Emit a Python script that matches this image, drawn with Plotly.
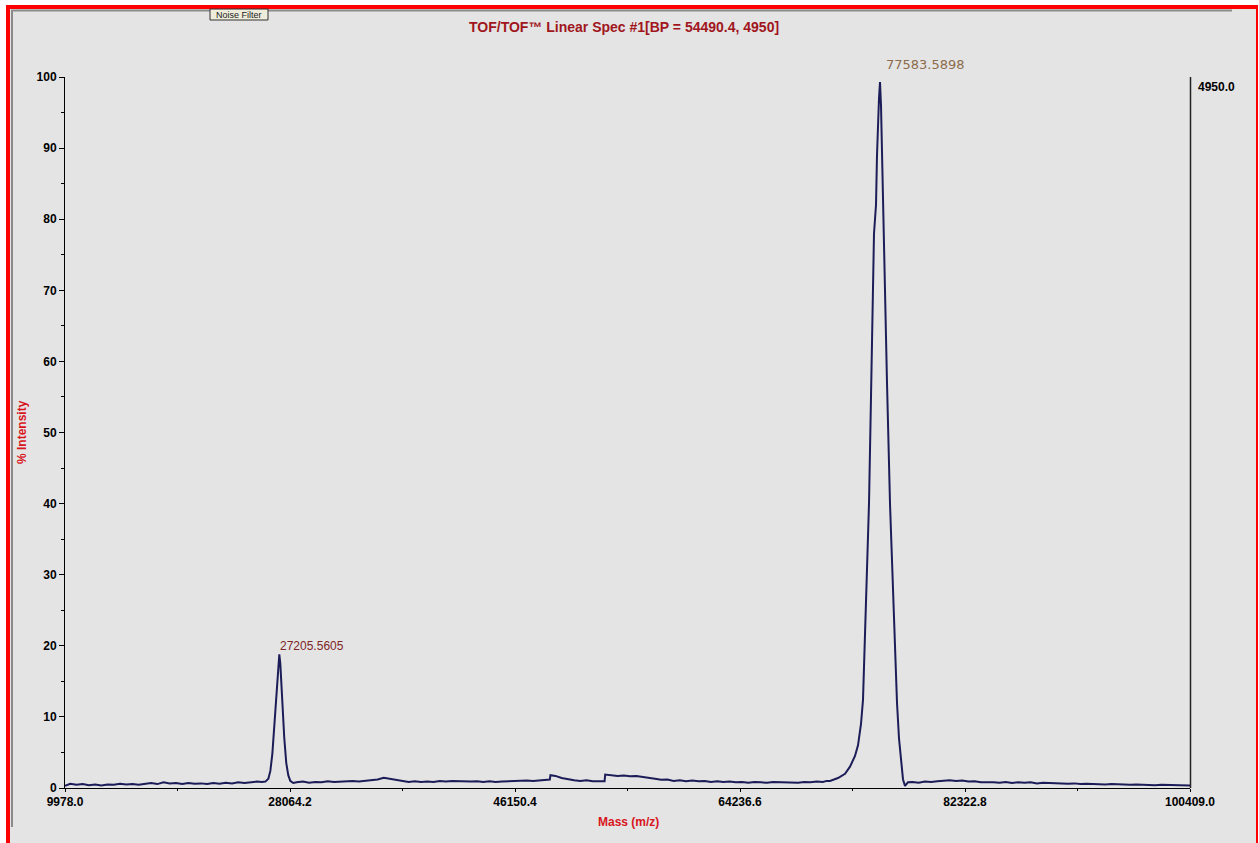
import plotly.graph_objects as go

# ---------------- data ----------------
base1_mass = [9978, 10400, 10900, 11400, 11900, 12400, 12900, 13400, 13900, 14400,
              14900, 15400, 15900, 16400, 16900, 17400, 17900, 18400, 18900, 19400,
              19900, 20400, 20900, 21400, 21900, 22400, 22900, 23400, 23900, 24400,
              24900, 25400, 25800]
base1_int = [0.3, 0.6, 0.45, 0.55, 0.4, 0.5, 0.35, 0.5, 0.45, 0.6,
             0.5, 0.55, 0.45, 0.6, 0.7, 0.55, 0.8, 0.65, 0.7, 0.55,
             0.7, 0.6, 0.65, 0.55, 0.7, 0.6, 0.75, 0.65, 0.8, 0.7,
             0.85, 0.9, 0.85]

peak1_mass = [26085, 26325, 26485, 26645, 26805, 26965, 27125, 27205, 27285, 27445,
              27605, 27765, 27925, 28085, 28325]
peak1_int = [0.9, 1.3, 2.4, 4.8, 9.0, 14.0, 18.0, 18.8, 17.5, 12.0,
             7.0, 3.5, 1.8, 1.0, 0.7]

base2_mass = [28600, 29100, 29600, 30100, 30600, 31100, 31600, 32100, 32600, 33100,
              33600, 34100, 34600, 35100, 35600, 36100, 36600, 37100, 37600, 38100,
              38600, 39100, 39600, 40100, 40600, 41100, 41600, 42100, 42600, 43100,
              43600, 44100, 44600, 45100, 45600, 46100, 46600, 47100, 47600, 48100,
              48600, 48950, 49000, 49400, 49900, 50400, 50900, 51400, 51900, 52400,
              52900, 53350, 53400, 53900, 54400, 54900, 55400, 55900, 56400, 56900,
              57400, 57900, 58400, 58900, 59400, 59900, 60400, 60900, 61400, 61900,
              62400, 62900, 63400, 63900, 64400, 64900, 65400, 65900, 66400, 66900,
              67400, 67900, 68400, 68900, 69400, 69900, 70400, 70900, 71200]
base2_int = [0.8, 0.9, 0.75, 0.85, 0.8, 0.95, 0.85, 0.9, 0.95, 1.0,
             0.9, 1.0, 1.05, 1.2, 1.45, 1.3, 1.05, 0.9, 0.85, 0.95,
             0.85, 0.9, 0.85, 1.0, 0.9, 1.0, 0.95, 0.95, 0.9, 0.95,
             0.85, 0.95, 0.85, 0.9, 0.95, 0.9, 0.95, 1.05, 1.0, 1.1,
             1.15, 1.2, 1.8, 1.7, 1.4, 1.2, 1.1, 1.0, 1.1, 0.95,
             1.0, 0.95, 1.9, 1.8, 1.7, 1.75, 1.65, 1.7, 1.6, 1.5,
             1.3, 1.15, 1.2, 1.0, 1.1, 0.95, 1.05, 0.95, 1.0, 0.85,
             0.95, 0.85, 0.9, 0.8, 0.85, 0.75, 0.85, 0.8, 0.75, 0.85,
             0.8, 0.75, 0.8, 0.75, 0.85, 0.8, 0.9, 0.85, 1.0]

peak2_mass = [71471, 72114, 72677, 73079, 73481, 73722, 73963, 74124, 74365, 74606,
              74767, 74927, 75008, 75169, 75249, 75410, 75490, 75571, 75731, 75892,
              76053, 76294, 76535, 76696, 76857, 77017, 77178, 77339, 77500, 77741]
peak2_int = [1.0, 1.4, 2.0, 3.0, 4.5, 6.0, 9.0, 12.4, 26.0, 40.0,
             55.0, 69.0, 78.0, 82.0, 89.0, 97.0, 99.3, 96.0, 82.0, 68.0,
             57.0, 40.0, 27.0, 19.0, 12.0, 7.0, 3.5, 1.2, 0.3, 0.8]

base3_mass = [78100, 78600, 79100, 79600, 80100, 80600, 81100, 81600, 82100, 82600,
              83100, 83600, 84100, 84600, 85100, 85600, 86100, 86600, 87100, 87600,
              88100, 88600, 89100, 89600, 90100, 90600, 91100, 91600, 92100, 92600,
              93100, 93600, 94100, 94600, 95100, 95600, 96100, 96600, 97100, 97600,
              98100, 98600, 99100, 99600, 100409]
base3_int = [0.85, 0.75, 0.9, 0.85, 0.95, 1.0, 1.1, 1.0, 1.05, 0.9,
             0.95, 0.8, 0.85, 0.8, 0.75, 0.85, 0.7, 0.8, 0.75, 0.8,
             0.65, 0.75, 0.7, 0.65, 0.7, 0.6, 0.65, 0.55, 0.6, 0.55,
             0.6, 0.5, 0.55, 0.5, 0.55, 0.45, 0.5, 0.45, 0.5, 0.4,
             0.45, 0.4, 0.45, 0.4, 0.35]

x_tick_vals = [9978.0, 28064.2, 46150.4, 64236.6, 82322.8, 100409.0]
x_tick_labels = ["9978.0", "28064.2", "46150.4", "64236.6", "82322.8", "100409.0"]
y_tick_vals = [0, 10, 20, 30, 40, 50, 60, 70, 80, 90, 100]
y_tick_labels = ["0", "10", "20", "30", "40", "50", "60", "70", "80", "90", "100"]

peak_labels = ["27205.5605", "77583.5898"]
peak_label_mass = [27100, 75812]
peak_label_int = [20.0, 101.7]

title_text = "TOF/TOF™ Linear Spec #1[BP = 54490.4, 4950]"
right_label = "4950.0"

mass = base1_mass + peak1_mass + base2_mass + peak2_mass + base3_mass
intensity = base1_int + peak1_int + base2_int + peak2_int + base3_int

# ---------------- figure ----------------
W, H = 1259, 843
L, R, T, B = 65, 1190, 77, 788


def PX(px):
    return (px - L) / (R - L)


def PY(py):
    return (B - py) / (B - T)


fig = go.Figure()
fig.add_trace(go.Scatter(x=mass, y=intensity, mode="lines",
                         line=dict(color="#1c1c58", width=2),
                         showlegend=False, hoverinfo="skip"))

x_minor = [(a + b) / 2 for a, b in zip(x_tick_vals[:-1], x_tick_vals[1:])]
y_minor = [v + 5 for v in y_tick_vals[:-1]]

tickfont = dict(family="Liberation Sans, Arial, sans-serif", size=12,
                color="black", weight="bold")

fig.update_layout(
    width=W, height=H,
    margin=dict(l=L, r=W - R, t=T, b=H - B, pad=0),
    paper_bgcolor="#e4e4e4", plot_bgcolor="#e4e4e4",
    showlegend=False,
    xaxis=dict(range=[x_tick_vals[0], x_tick_vals[-1]], showgrid=False, zeroline=False,
               showline=True, linecolor="black", linewidth=1,
               ticks="outside", ticklen=3, tickcolor="black",
               tickmode="array", tickvals=x_tick_vals, ticktext=x_tick_labels,
               tickfont=tickfont,
               minor=dict(tickvals=x_minor, ticks="outside", ticklen=2, tickcolor="black")),
    yaxis=dict(range=[0, 100], showgrid=False, zeroline=False,
               showline=True, linecolor="black", linewidth=1,
               ticks="outside", ticklen=5, tickcolor="black",
               tickmode="array", tickvals=y_tick_vals, ticktext=y_tick_labels,
               tickfont=tickfont,
               minor=dict(tickvals=y_minor, ticks="outside", ticklen=3, tickcolor="black")),
)

shapes = []


def rect(x0, y0, x1, y1, color, line=None):
    d = dict(type="rect", xref="paper", yref="paper",
             x0=PX(x0), x1=PX(x1), y0=PY(y0), y1=PY(y1),
             fillcolor=color, line=dict(width=0), layer="above")
    if line:
        d["line"] = line
    shapes.append(d)


def hline(x0, x1, y, color, width):
    shapes.append(dict(type="line", xref="paper", yref="paper",
                       x0=PX(x0), x1=PX(x1), y0=PY(y), y1=PY(y),
                       line=dict(color=color, width=width)))


def vline(x, y0, y1, color, width):
    shapes.append(dict(type="line", xref="paper", yref="paper",
                       x0=PX(x), x1=PX(x), y0=PY(y0), y1=PY(y1),
                       line=dict(color=color, width=width)))


# outer white + red frame
rect(-5, -5, W + 5, 5, "white")
rect(-5, -5, 6, H + 5, "white")
rect(1258, -5, W + 5, H + 5, "white")
rect(6, 5, 1258, 9, "#ff0000")
rect(6, 5, 10, H + 5, "#ff0000")
rect(1256, 5, 1258, H + 5, "#ff0000")
# inner gray frame lines
hline(11, 1232, 10.5, "#8a8a8a", 2)
vline(12, 10, 827, "#8a8a8a", 2)
# right axis line
vline(R + 0.5, T, B, "#222222", 1.5)
# Noise Filter button
rect(210, 9, 268, 20, "#eeeddc", line=dict(color="#333333", width=1))

fig.update_layout(shapes=shapes)

ann = []
ann.append(dict(xref="paper", yref="paper", x=PX(624), y=PY(27), text=title_text,
                showarrow=False, xanchor="center", yanchor="middle",
                font=dict(family="Liberation Sans, Arial, sans-serif", size=14,
                          color="#a0161c", weight="bold")))
ann.append(dict(xref="paper", yref="paper", x=PX(22), y=PY(432), text="% Intensity",
                textangle=-90, showarrow=False, xanchor="center", yanchor="middle",
                font=dict(family="Liberation Sans, Arial, sans-serif", size=12,
                          color="#d8141c", weight="bold")))
ann.append(dict(xref="paper", yref="paper", x=PX(628), y=PY(822), text="Mass (m/z)",
                showarrow=False, xanchor="center", yanchor="middle",
                font=dict(family="Liberation Sans, Arial, sans-serif", size=12,
                          color="#d8141c", weight="bold")))
ann.append(dict(xref="paper", yref="paper", x=PX(1196), y=PY(87), text=right_label,
                showarrow=False, xanchor="left", yanchor="middle",
                font=dict(family="Liberation Sans, Arial, sans-serif", size=12,
                          color="black", weight="bold")))
ann.append(dict(xref="paper", yref="paper", x=PX(239), y=PY(14.5), text="Noise Filter",
                showarrow=False, xanchor="center", yanchor="middle",
                font=dict(family="Liberation Sans, Arial, sans-serif", size=9,
                          color="#222222")))
ann.append(dict(xref="x", yref="y", x=peak_label_mass[0], y=peak_label_int[0],
                text=peak_labels[0], showarrow=False, xanchor="left", yanchor="middle",
                font=dict(family="Liberation Sans, Arial, sans-serif", size=12,
                          color="#7e2626")))
# label above the 100 % line: y given in paper units (data value 101.7 % -> paper)
ann.append(dict(xref="x", yref="paper", x=peak_label_mass[1], y=peak_label_int[1] / 100.0,
                text=peak_labels[1], showarrow=False, xanchor="left", yanchor="middle",
                font=dict(family="DejaVu Sans, sans-serif", size=13,
                          color="#8c6c4c")))
fig.update_layout(annotations=ann)

fig.write_html(
    "out.html",
    config={"displayModeBar": False},
    post_script="document.body.style.margin='0';document.body.style.padding='0';"
                "document.body.style.overflow='hidden';",
)
